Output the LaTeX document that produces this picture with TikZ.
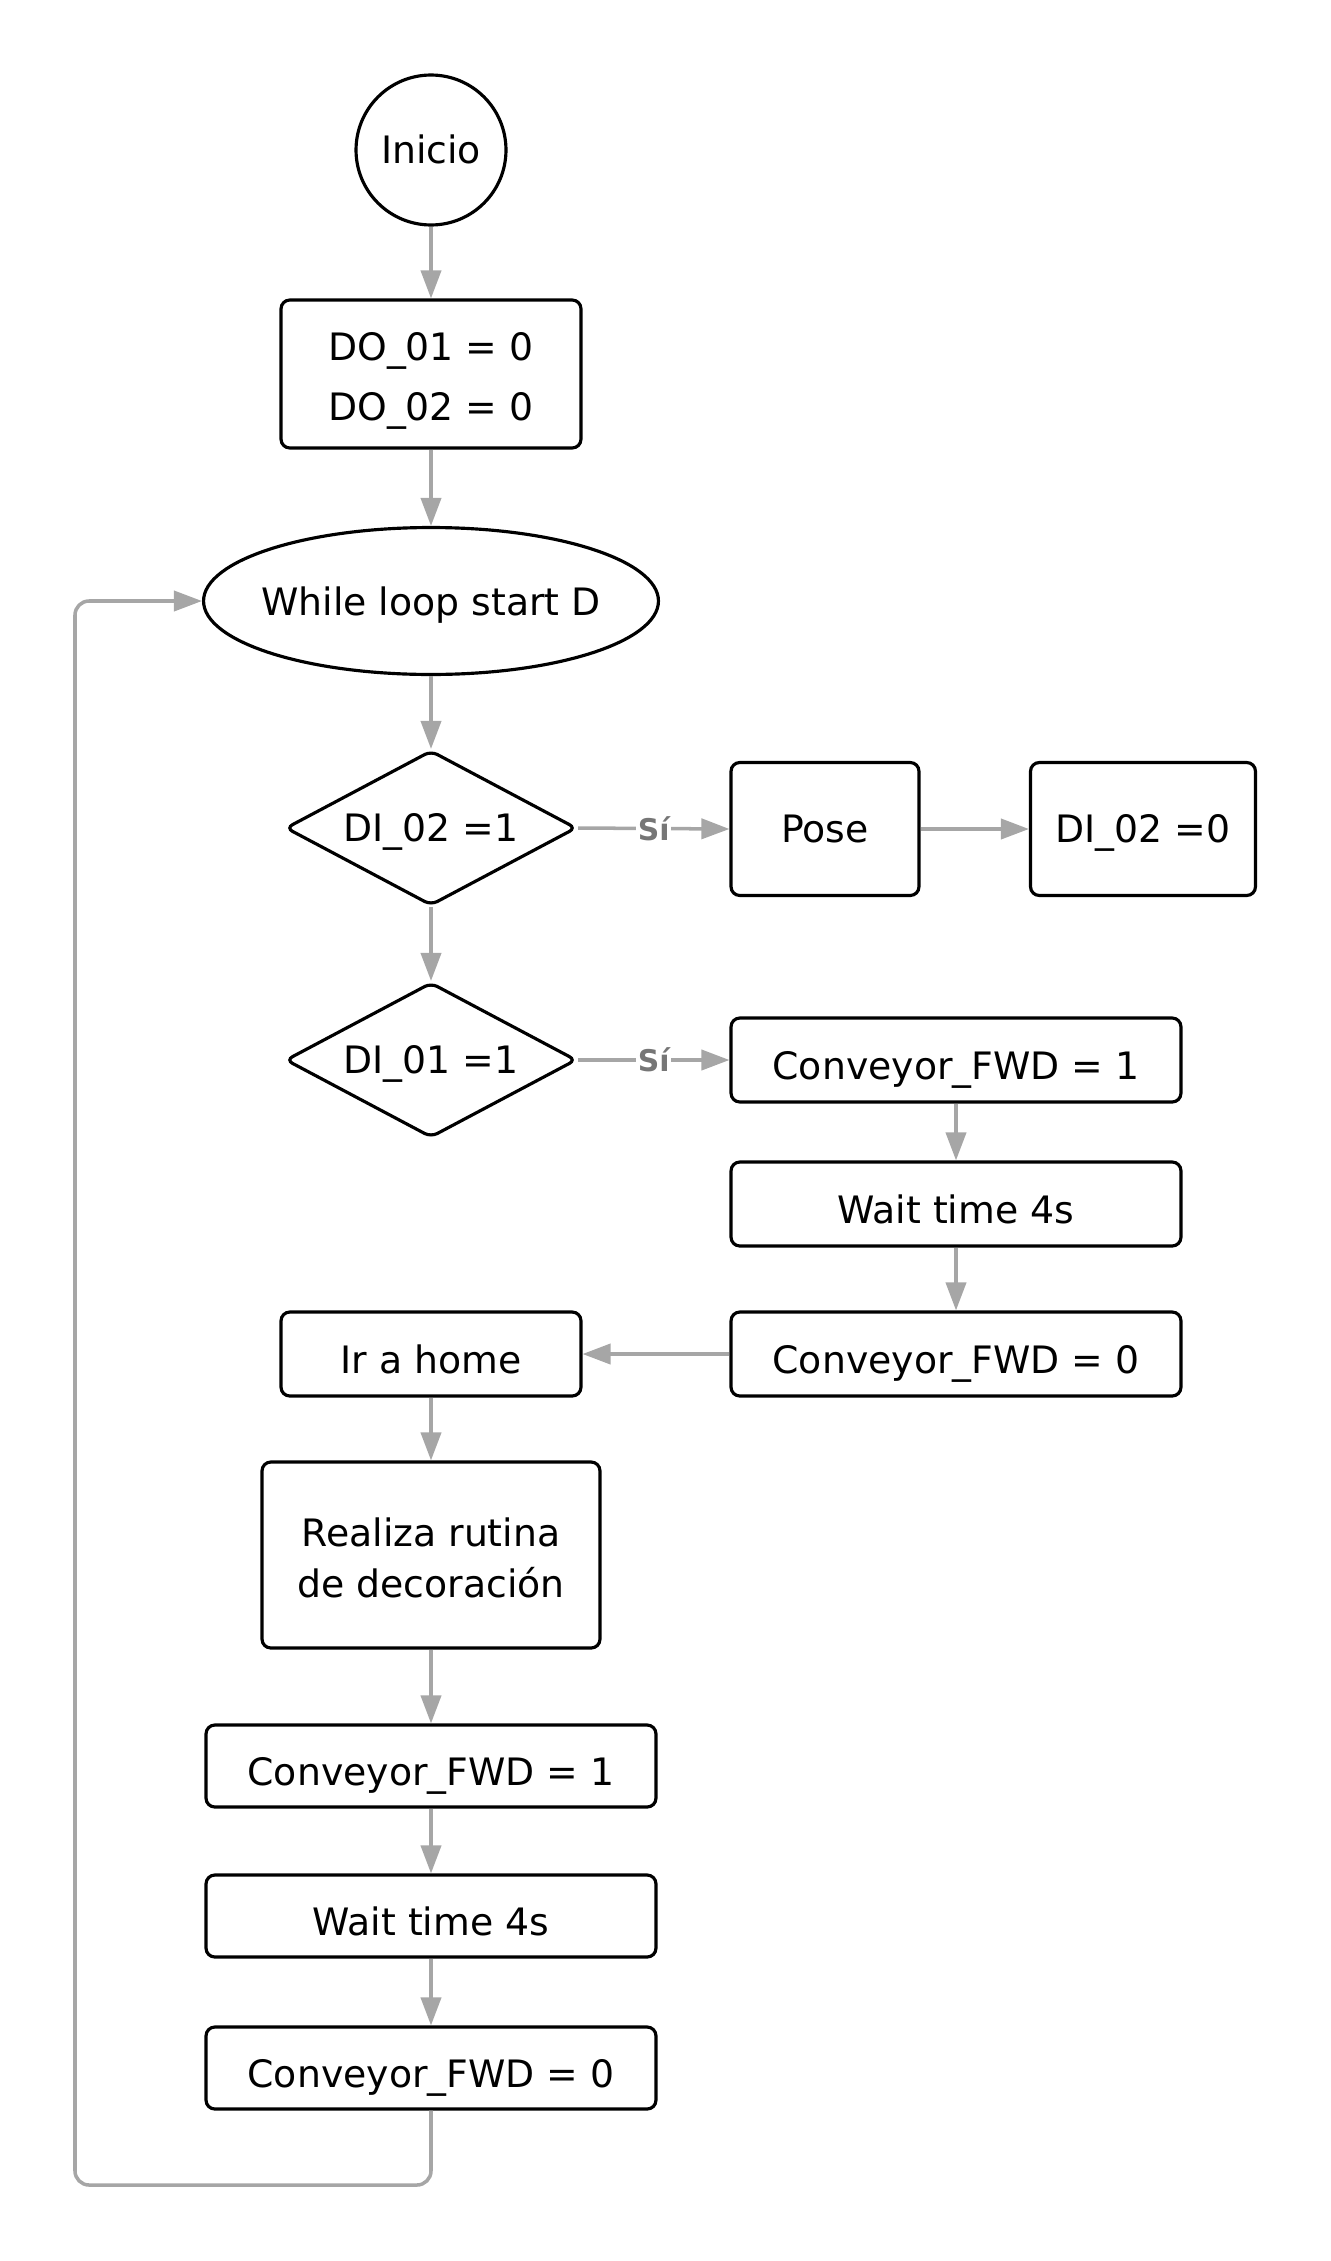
\documentclass[tikz,border=0pt]{standalone}
\usepackage{fontspec}
\setmainfont{DejaVu Sans}
\usetikzlibrary{positioning,shapes.geometric,arrows.meta}
\definecolor{linkgray}{HTML}{A6A6A6}
\definecolor{labelgray}{HTML}{767676}
\tikzset{
    >={Triangle[length=16pt,width=11.5pt]},
    txt/.style = {font=\fontsize{21.5}{32}\selectfont, text height=15.7pt, text depth=0pt},
    low/.style = {text height=22.5pt, text depth=0pt},
    block/.style = {draw, rectangle, rounded corners=5pt, line width=1.8pt, align=center, txt},
    decision/.style = {draw, diamond, rounded corners=4pt, line width=1.8pt, aspect=1.88,
        minimum width=5.82cm, minimum height=3.1cm, inner sep=0pt, txt},
    flow/.style = {->, draw=linkgray, line width=2pt},
    yes/.style = {fill=white, text=labelgray, inner sep=1pt, font=\bfseries\fontsize{17}{17}\selectfont},
}

\begin{document}
\begin{tikzpicture}[x=0.02cm, y=-0.02cm]
    \useasboundingbox (0,0) rectangle (1331,2261);

    \node (start) [draw, circle, line width=1.8pt, minimum size=3cm, inner sep=0pt, txt] at (431,150) {Inicio};
    \node (init) [block, minimum width=6cm, minimum height=2.96cm, text height=, text depth=,
        font=\fontsize{21.5}{34}\selectfont] at (431,374) {\rule{0pt}{24pt}DO\_01 = 0\\DO\_02 = 0};
    \node (while) [draw, ellipse, line width=1.8pt, minimum width=9.1cm, minimum height=2.94cm,
        inner sep=0pt, txt, text height=16.5pt] at (431,601) {\makebox[0pt]{While loop start D}};

    \node (di2) [decision] at (431,828) {DI\_02 =1};
    \node (pose) [block, minimum width=3.76cm, minimum height=2.66cm] at (825,829) {Pose};
    \node (di2off) [block, minimum width=4.5cm, minimum height=2.66cm] at (1143,829) {DI\_02 =0};

    \node (di1) [decision] at (431,1060) {DI\_01 =1};
    \node (cfwdon) [block, low, minimum width=9cm, minimum height=1.68cm] at (956,1060) {Conveyor\_FWD = 1};
    \node (wait) [block, low, minimum width=9cm, minimum height=1.68cm] at (956,1204) {Wait time 4s};
    \node (cfwdoff) [block, low, minimum width=9cm, minimum height=1.68cm] at (956,1354) {Conveyor\_FWD = 0};

    \node (home) [block, low, minimum width=6cm, minimum height=1.68cm] at (431,1354) {Ir a home};
    \node (deco) [block, minimum width=6.76cm, minimum height=3.72cm, text height=, text depth=,
        font=\fontsize{21.5}{29}\selectfont] at (431,1555) {\rule{0pt}{20pt}Realiza rutina\\de decoración};
    \node (cfwdonb) [block, low, minimum width=9cm, minimum height=1.64cm] at (431,1766) {Conveyor\_FWD = 1};
    \node (waitb) [block, low, minimum width=9cm, minimum height=1.64cm] at (431,1916) {Wait time 4s};
    \node (cfwdoffb) [block, low, minimum width=9cm, minimum height=1.64cm] at (431,2068) {Conveyor\_FWD = 0};

    \coordinate (loopcorner) at (75,2185);

    \draw [flow] (start) -- (init);
    \draw [flow] (init) -- (while);
    \draw [flow] (while) -- (di2);
    \draw [flow] (di2.east) -- node [yes] {Sí} (pose.west);
    \draw [flow] (pose) -- (di2off);
    \draw [flow] (di2) -- (di1);
    \draw [flow] (di1.east) -- node [yes] {Sí} (cfwdon.west);
    \draw [flow] (cfwdon) -- (wait);
    \draw [flow] (wait) -- (cfwdoff);
    \draw [flow] (cfwdoff) -- (home);
    \draw [flow] (home) -- (deco);
    \draw [flow] (deco) -- (cfwdonb);
    \draw [flow] (cfwdonb) -- (waitb);
    \draw [flow] (waitb) -- (cfwdoffb);
    \draw [flow, rounded corners=8pt] (cfwdoffb.south) |- (loopcorner) |- (while.west);
\end{tikzpicture}
\end{document}
